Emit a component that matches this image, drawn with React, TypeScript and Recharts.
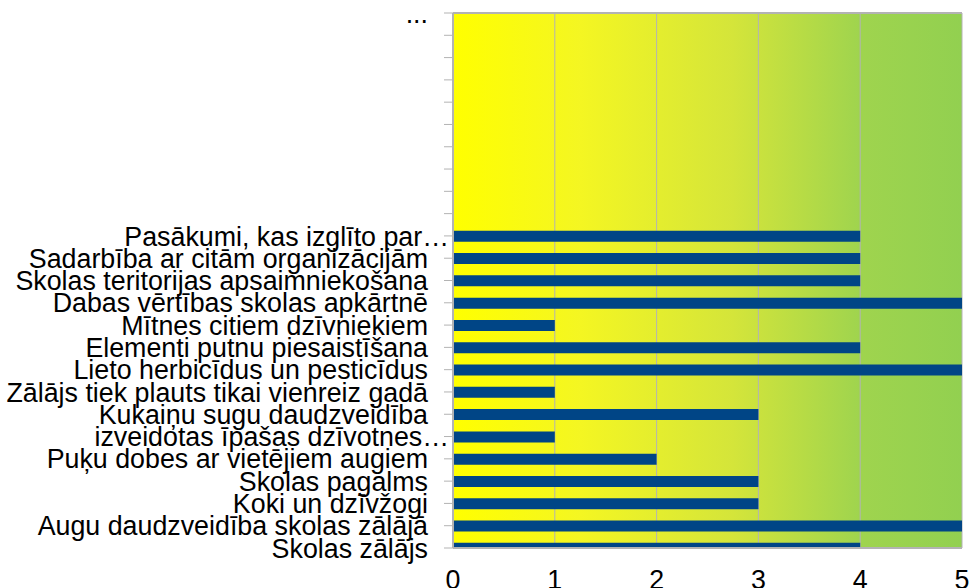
import React from 'react'
import { BarChart, Bar, XAxis, YAxis, CartesianGrid, ReferenceLine } from 'recharts'

// top row is the "..." placeholder, then 9 empty rows, then the real items
const labels = [
  '...', '', '', '', '', '', '', '', '', '',
  'Pasākumi, kas izglīto par…',
  'Sadarbība ar citām organizācijām',
  'Skolas teritorijas apsaimniekošana',
  'Dabas vērtības skolas apkārtnē',
  'Mītnes citiem dzīvniekiem',
  'Elementi putnu piesaistīšana',
  'Lieto herbicīdus un pesticīdus',
  'Zālājs tiek plauts tikai vienreiz gadā',
  'Kukaiņu sugu daudzveidība',
  'izveidotas īpašas dzīvotnes…',
  'Puķu dobes ar vietējiem augiem',
  'Skolas pagalms',
  'Koki un dzīvžogi',
  'Augu daudzveidība skolas zālājā',
  'Skolas zālājs',
]

const values = [
  null, null, null, null, null, null, null, null, null, null,
  4, 4, 4, 5, 1, 4, 5, 1, 3, 1, 2, 3, 3, 5, 4,
]

const xTicks = [0, 1, 2, 3, 4, 5]

const data = labels.map((name, i) => ({ pos: i, name, value: values[i] }))

const FONT = '"Liberation Sans", Arial, sans-serif'

const CatTick = (props: any) => {
  const { x, y, payload } = props
  const label = labels[payload.value] ?? ''
  const shift = label.endsWith('…') ? 21 : 0
  return (
    <text x={x + shift} y={y} dy="0.36em" textAnchor="end" fontSize={26.8} fontFamily={FONT} fill="#000">
      {label}
    </text>
  )
}

const App = () => {
  return (
    <div style={{ position: 'absolute', left: 0, top: 0, width: 970, height: 588, background: '#fff' }}>
      <BarChart
        width={970}
        height={588}
        data={data}
        layout="vertical"
        margin={{ top: 13, right: 8, bottom: 0, left: 0 }}
      >
        <defs>
          <linearGradient id="bg" x1="0" y1="0" x2="1" y2="0">
            <stop offset="0%" stopColor="#ffff00" />
            <stop offset="25%" stopColor="#f4f622" />
            <stop offset="55%" stopColor="#d4e53a" />
            <stop offset="80%" stopColor="#9fd44e" />
            <stop offset="100%" stopColor="#92d050" />
          </linearGradient>
        </defs>
        <CartesianGrid horizontal={false} stroke="#b3b3b3" fill="url(#bg)" fillOpacity={1} />
        <XAxis
          type="number"
          domain={[0, 5]}
          ticks={xTicks}
          height={40}
          tickLine={false}
          tickSize={0}
          tickMargin={22}
          axisLine={{ stroke: '#b3b3b3', strokeWidth: 2 }}
          tick={{ fontSize: 26.8, fontFamily: FONT, fill: '#000' }}
        />
        <YAxis
          type="number"
          dataKey="pos"
          domain={[0, 24]}
          ticks={labels.map((_, i) => i)}
          interval={0}
          allowDataOverflow
          width={453}
          tickSize={9}
          tickMargin={16}
          tickLine={{ stroke: '#b3b3b3' }}
          axisLine={{ stroke: '#b3b3b3', strokeWidth: 2 }}
          tick={<CatTick />}
        />
        <ReferenceLine y={0} stroke="#b3b3b3" strokeWidth={2} />
        <Bar dataKey="value" fill="#004586" barSize={11} isAnimationActive={false} />
      </BarChart>
    </div>
  )
}

export default App
